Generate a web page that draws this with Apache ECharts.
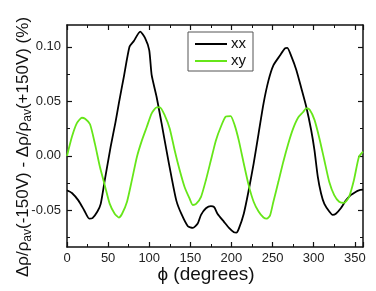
<!DOCTYPE html>
<html>
<head>
<meta charset="utf-8">
<script src="https://cdn.jsdelivr.net/npm/echarts@6/dist/echarts.min.js"></script>
<style>html,body{margin:0;padding:0;background:#fff}#c{width:376px;height:291px}</style>
</head>
<body>
<div id="c"></div>
<script>
const xxPhi = [0, 6, 14, 21, 27, 31, 37, 41, 46, 53, 59, 63, 69, 76, 81, 89, 95, 100, 103, 109, 115, 121, 127, 133, 139, 147, 153, 159, 163, 169, 175, 179, 183, 191, 197, 203, 206, 209, 215, 221, 227, 233, 239, 245, 251, 259, 265, 268, 273, 279, 285, 291, 297, 301, 305, 309, 313, 319, 323, 327, 333, 339, 345, 351, 355, 360];
const xxVal = [-0.0315, -0.034, -0.041, -0.050, -0.0575, -0.057, -0.051, -0.044, -0.022, 0.008, 0.031, 0.048, 0.072, 0.100, 0.105, 0.114, 0.108, 0.097, 0.074, 0.054, 0.030, 0.005, -0.019, -0.041, -0.053, -0.0645, -0.066, -0.062, -0.054, -0.048, -0.046, -0.047, -0.053, -0.0605, -0.066, -0.070, -0.0703, -0.0667, -0.053, -0.0315, -0.007, 0.0205, 0.048, 0.069, 0.083, 0.092, 0.0985, 0.099, 0.091, 0.0786, 0.062, 0.045, 0.0235, 0.005, -0.019, -0.0345, -0.044, -0.051, -0.054, -0.053, -0.048, -0.041, -0.036, -0.033, -0.0315, -0.031];
const xyPhi = [0, 6, 12, 18, 22, 28, 34, 40, 46, 52, 58, 63, 67, 73, 79, 85, 91, 97, 103, 109, 113, 119, 125, 131, 137, 143, 149, 153, 157, 163, 169, 175, 181, 187, 193, 199, 204, 209, 215, 221, 227, 233, 239, 243, 247, 251, 257, 263, 269, 275, 281, 287, 291, 295, 301, 307, 313, 319, 325, 331, 337, 343, 349, 355, 360];
const xyVal = [0.000, 0.0175, 0.030, 0.035, 0.034, 0.029, 0.011, -0.010, -0.027, -0.044, -0.053, -0.0565, -0.053, -0.042, -0.022, -0.001, 0.014, 0.0265, 0.039, 0.0445, 0.0445, 0.037, 0.025, 0.005, -0.013, -0.0285, -0.039, -0.045, -0.044, -0.0375, -0.022, -0.004, 0.014, 0.0265, 0.036, 0.0365, 0.028, 0.014, -0.007, -0.027, -0.042, -0.051, -0.0565, -0.0575, -0.0545, -0.042, -0.024, -0.0055, 0.011, 0.025, 0.035, 0.040, 0.0435, 0.0425, 0.033, 0.016, -0.004, -0.024, -0.036, -0.042, -0.043, -0.0375, -0.022, -0.001, 0.004];
const xTicks = [0, 50, 100, 150, 200, 250, 300, 350];
const yMajor = [-0.05, 0.00, 0.05, 0.10];
const yMinor = [-0.075, -0.025, 0.025, 0.075];
const seriesNames = ['xx', 'xy'];

const font = 'Liberation Sans, Arial, sans-serif';
const axisLine = {show: true, onZero: false, lineStyle: {color: '#111', width: 1.5}};
const noLine = {show: false, onZero: false};
const chart = echarts.init(document.getElementById('c'));
function pairs(a, b) { return a.map((p, i) => [p, b[i]]); }
const yBase = {type: 'value', min: -0.0835, max: 0.12, splitLine: {show: false}, axisLine: axisLine};
chart.setOption({
  animation: false,
  grid: {left: 67, right: 13, top: 25, bottom: 44, containLabel: false, outerBoundsMode: 'none'},
  legend: {
    orient: 'vertical', left: 188, top: 32, padding: [4, 7, 2, 7],
    borderColor: '#555', borderWidth: 1, itemWidth: 32, itemHeight: 2, itemGap: 1,
    icon: 'rect',
    textStyle: {fontFamily: font, fontSize: 15, lineHeight: 16, color: '#111', padding: [0, 0, 0, -1]},
    data: seriesNames
  },
  xAxis: [
    {type: 'value', min: 0, max: 360, interval: 50, position: 'bottom',
     name: 'ϕ (degrees)', nameLocation: 'middle', nameGap: 18, nameMoveOverlap: false,
     nameTextStyle: {fontFamily: font, fontSize: 19, color: '#111', padding: [0, 18, 0, 0]},
     axisLine: axisLine, splitLine: {show: false},
     axisTick: {inside: true, length: 5, lineStyle: {color: '#111', width: 1.2}},
     minorTick: {show: true, splitNumber: 2, length: 3, lineStyle: {color: '#111', width: 1}},
     axisLabel: {margin: 5, fontFamily: font, fontSize: 13, color: '#222'}},
    {type: 'value', min: 0, max: 360, interval: 50, position: 'top',
     axisLine: axisLine, splitLine: {show: false},
     axisTick: {inside: true, length: 5, lineStyle: {color: '#111', width: 1.2}},
     minorTick: {show: true, splitNumber: 2, length: 3, lineStyle: {color: '#111', width: 1}},
     axisLabel: {show: false}}
  ],
  yAxis: [
    Object.assign({}, yBase, {position: 'left',
      name: '{m|Δρ/ρ}{s|av}{m|(-150V) - Δρ/ρ}{s|av}{m|(+150V) (%)}',
      nameLocation: 'middle', nameGap: 33, nameRotate: 90, nameMoveOverlap: false,
      nameTextStyle: {fontFamily: font, fontSize: 17, color: '#111', padding: [0, 22, 0, 0], rich: {
        m: {fontFamily: font, fontSize: 17, color: '#111', lineHeight: 22, verticalAlign: 'middle'},
        s: {fontFamily: font, fontSize: 12, color: '#111', lineHeight: 22, verticalAlign: 'bottom'}
      }},
      axisTick: {inside: true, length: 5, customValues: yMajor, lineStyle: {color: '#111', width: 1.2}},
      axisLabel: {customValues: yMajor, margin: 6, fontFamily: font, fontSize: 13, color: '#222',
        formatter: v => v.toFixed(2)}}),
    Object.assign({}, yBase, {position: 'right',
      axisTick: {inside: true, length: 5, customValues: yMajor, lineStyle: {color: '#111', width: 1.2}},
      axisLabel: {show: false}}),
    Object.assign({}, yBase, {position: 'left', axisLine: noLine,
      axisTick: {inside: true, length: 3, customValues: yMinor, lineStyle: {color: '#111', width: 1}},
      axisLabel: {show: false}}),
    Object.assign({}, yBase, {position: 'right', axisLine: noLine,
      axisTick: {inside: true, length: 3, customValues: yMinor, lineStyle: {color: '#111', width: 1}},
      axisLabel: {show: false}})
  ],
  series: [
    {name: seriesNames[0], type: 'line', symbol: 'none', smooth: 0.2, data: pairs(xxPhi, xxVal),
     lineStyle: {color: '#000', width: 1.8}, itemStyle: {color: '#000'}},
    {name: seriesNames[1], type: 'line', symbol: 'none', smooth: 0.2, data: pairs(xyPhi, xyVal),
     lineStyle: {color: '#66e619', width: 1.8}, itemStyle: {color: '#66e619'}}
  ]
});
</script>
</body>
</html>
